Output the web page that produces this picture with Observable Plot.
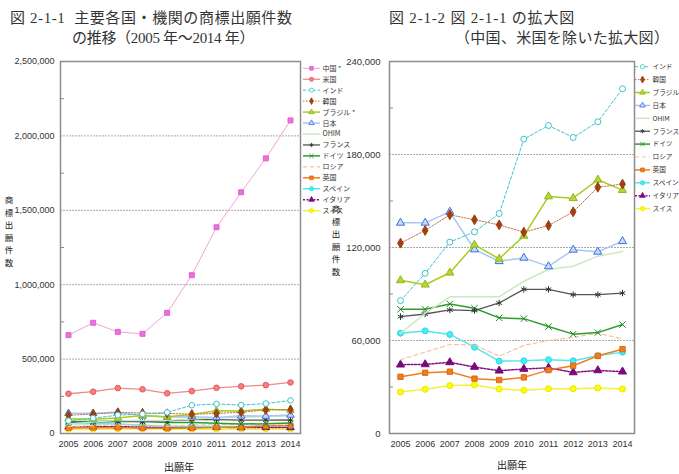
<!DOCTYPE html>
<html><head><meta charset="utf-8">
<script src="https://cdn.jsdelivr.net/npm/d3@7"></script>
<script src="https://cdn.jsdelivr.net/npm/@observablehq/plot@0.6"></script>
<style>
body{margin:0;background:#fff;}
#wrap{position:relative;width:679px;height:474px;overflow:hidden;background:#fff;}
#wrap svg{position:absolute;left:0;top:0;}
.title{position:absolute;font-family:"Liberation Serif","Noto Sans CJK JP",serif;font-size:15px;line-height:18px;color:#333;white-space:nowrap;}
</style></head><body>
<div id="wrap">
<div class="title" style="left:10px;top:9px;letter-spacing:0.6px">図 2-1-1&nbsp; 主要各国・機関の商標出願件数</div>
<div class="title" style="left:72px;top:29px;letter-spacing:-0.3px">の推移（2005 年～2014 年）</div>
<div class="title" style="left:389px;top:9px;letter-spacing:0.8px">図 2-1-2 図 2-1-1 の拡大図</div>
<div class="title" style="left:455px;top:29px;letter-spacing:0.3px">（中国、米国を除いた拡大図）</div>
</div>
<script>
// ---- data ----
const years = [2005, 2006, 2007, 2008, 2009, 2010, 2011, 2012, 2013, 2014];
const china   = [661000, 744000, 683000, 670000, 811000, 1064000, 1386000, 1621000, 1849000, 2104000];
const usa     = [267000, 281000, 305000, 297000, 270000, 285000, 307000, 317000, 325000, 343000];
const india   = [85700, 103300, 123500, 130100, 141900, 189900, 198700, 191000, 201100, 222400];
const korea   = [122800, 131000, 141100, 137900, 134600, 129900, 134200, 143000, 158900, 160900];
const brazil  = [98800, 96000, 103700, 121700, 112700, 127500, 152900, 151800, 163700, 157000];
const japan   = [135900, 135900, 143000, 118700, 111100, 113300, 107800, 118500, 117200, 124000];
const ohim    = [64700, 77500, 88200, 88200, 88200, 98200, 105800, 107900, 114400, 117400];
const france  = [75400, 77100, 79700, 79300, 84200, 93000, 93000, 89600, 89600, 90600];
const germany = [80100, 80100, 83600, 80800, 74600, 74100, 69000, 64100, 65100, 70300];
const russia  = [47600, 52500, 57400, 57200, 49900, 56800, 60000, 62100, 64700, 61000];
const uk      = [36600, 39200, 39900, 35400, 34500, 36200, 40900, 43700, 50100, 54400];
const spain   = [64700, 66200, 63900, 55700, 46700, 46900, 47600, 46900, 50100, 52500];
const italy   = [44400, 44600, 45900, 42900, 40500, 41600, 42400, 39400, 40700, 39900];
const swiss   = [26800, 28500, 30900, 31300, 28700, 27900, 28900, 28900, 29400, 28700];

const leftNames  = ["中国 *", "米国", "インド", "韓国", "ブラジル *", "日本", "OHIM", "フランス", "ドイツ", "ロシア", "英国", "スペイン", "イタリア", "スイス"];
const rightNames = ["インド", "韓国", "ブラジル", "日本", "OHIM", "フランス", "ドイツ", "ロシア", "英国", "スペイン", "イタリア", "スイス"];

const leftYTicks  = [0, 500000, 1000000, 1500000, 2000000, 2500000];
const rightYTicks = [0, 60000, 120000, 180000, 240000];
const yTitle = "商標出願件数";
const xTitle = "出願年";

// ---- styles ----
const STYLE = {
  china:   {values: china,   line: "#f5a3d6", w: 1,   dash: null,    symbol: "square",   fill: "#ee70dc", stroke: "#e060d0"},
  usa:     {values: usa,     line: "#f08a8a", w: 1.3, dash: null,    symbol: "circle",   fill: "#f48080", stroke: "#e05a5a"},
  india:   {values: india,   line: "#3cc4cc", w: 1,   dash: "3,2",   symbol: "circle",   fill: "#ffffff", stroke: "#3cc4cc"},
  korea:   {values: korea,   line: "#c2704c", w: 1,   dash: "1.5,1.5", symbol: "diamond", fill: "#a0400f", stroke: "#a0400f"},
  brazil:  {values: brazil,  line: "#a8cc22", w: 1.5, dash: null,    symbol: "triangle", fill: "#b4d63a", stroke: "#94b818"},
  japan:   {values: japan,   line: "#a6c8f2", w: 1.5, dash: null,    symbol: "triangle", fill: "#c6dafc", stroke: "#3f6fe0"},
  ohim:    {values: ohim,    line: "#cbe8c4", w: 1.5, dash: null,    symbol: null},
  france:  {values: france,  line: "#555555", w: 1.3, dash: null,    symbol: "asterisk", fill: "none",    stroke: "#333333"},
  germany: {values: germany, line: "#2e9c2e", w: 1.5, dash: null,    symbol: "times",    fill: "none",    stroke: "#1e8a1e"},
  russia:  {values: russia,  line: "#f8c39c", w: 1.2, dash: "4,3",   symbol: null},
  uk:      {values: uk,      line: "#f07c1c", w: 1.5, dash: null,    symbol: "square",   fill: "#f07c1c", stroke: "#e06a10"},
  spain:   {values: spain,   line: "#55e6f0", w: 1.5, dash: null,    symbol: "circle",   fill: "#44eef6", stroke: "#30d8e4"},
  italy:   {values: italy,   line: "#8a0a8a", w: 1.5, dash: "2,1.5", symbol: "triangle", fill: "#7a0a7a", stroke: "#7a0a7a"},
  swiss:   {values: swiss,   line: "#f2f23a", w: 1.5, dash: null,    symbol: "circle",   fill: "#ffff00", stroke: "#e8e800"}
};
const leftKeys  = ["china","usa","india","korea","brazil","japan","ohim","france","germany","russia","uk","spain","italy","swiss"];
const rightKeys = ["india","korea","brazil","japan","ohim","france","germany","russia","uk","spain","italy","swiss"];

const d3Sym = {square: d3.symbolSquare, circle: d3.symbolCircle, diamond: d3.symbolDiamond,
  triangle: d3.symbolTriangle, asterisk: d3.symbolAsterisk, times: d3.symbolTimes};

const sansFont = `"Liberation Sans", Arial, sans-serif`;
const cjkFont = `"Noto Sans CJK JP", sans-serif`;

function drawChart(o) {
  const sel = o.keys.map(k => STYLE[k]);
  const marks = [
    Plot.ruleY(o.grid, {stroke: "#aaaaaa", strokeWidth: 1, strokeDasharray: "2,1"}),
    Plot.frame({stroke: "#8c8c8c", strokeWidth: 1.5}),
    Plot.axisY(o.ticks, {anchor: "left", label: null, tickSize: 0, tickPadding: o.pad, tickFormat: d3.format(","), fontSize: o.fs, fill: "#333"}),
    Plot.axisY(o.minor, {anchor: "left", label: null, tickSize: -4, tickFormat: () => "", stroke: "#888"}),
    Plot.axisX(years, {anchor: "bottom", label: null, tickSize: 0, tickPadding: 7, tickFormat: d => String(d), fontSize: 9, fill: "#333"})
  ];
  for (const s of sel.slice().reverse()) {
    const d = years.map((yr, i) => ({year: yr, value: s.values[i]}));
    marks.push(Plot.line(d, {x: "year", y: "value", stroke: s.line, strokeWidth: s.w, strokeDasharray: s.dash}));
    if (s.symbol) marks.push(Plot.dot(d, {x: "year", y: "value", symbol: s.symbol, r: o.r, fill: s.fill, stroke: s.stroke, strokeWidth: 1}));
  }
  const svg = Plot.plot({
    width: 679, height: 474,
    marginTop: 61, marginBottom: 41, marginLeft: o.ml, marginRight: o.mr,
    style: {background: "transparent", fontFamily: sansFont, overflow: "visible"},
    x: {domain: [2005, 2014], insetLeft: o.il, insetRight: o.ir, axis: null},
    y: {domain: [0, o.yMax], axis: null},
    marks
  });
  const root = d3.select(svg);
  // legend
  const g = root.append("g").attr("text-anchor", "start");
  o.names.forEach((name, i) => {
    const s = sel[i];
    const y = o.ly0 + i * o.ldy;
    g.append("line").attr("x1", o.lx).attr("x2", o.lx + o.lw).attr("y1", y).attr("y2", y)
      .attr("stroke", s.line).attr("stroke-width", s.w).attr("stroke-dasharray", s.dash);
    if (s.symbol) {
      g.append("path").attr("d", d3.symbol(d3Sym[s.symbol], o.lsize)())
        .attr("transform", `translate(${o.lx + o.lw / 2},${y})`)
        .attr("fill", s.fill).attr("stroke", s.stroke).attr("stroke-width", 0.8);
    }
    g.append("text").attr("x", o.lx + o.lw + 2.5).attr("y", y).attr("dy", "0.35em")
      .attr("text-anchor", "start")
      .attr("font-family", cjkFont).attr("font-size", o.lfs).attr("fill", "#333").text(name);
  });
  // stacked y-axis title, one text per character
  const tg = root.append("g").attr("font-family", cjkFont).attr("font-size", 8.5)
    .attr("fill", "#222").attr("text-anchor", "middle");
  yTitle.split("").forEach((ch, i) => {
    tg.append("text").attr("x", o.ytx).attr("y", o.yty + i * 12.5).text(ch);
  });
  // x-axis title
  root.append("text").attr("font-family", cjkFont).attr("font-size", 10).attr("fill", "#222")
    .attr("text-anchor", "middle").attr("x", o.xtx).attr("y", o.xty).text(xTitle);
  return svg;
}

const wrap = document.getElementById("wrap");
wrap.appendChild(drawChart({
  keys: leftKeys, names: leftNames, ml: 60, mr: 379, il: 8, ir: 10, pad: 6, fs: 9,
  yMax: 2500000, ticks: leftYTicks, minor: [250000, 750000, 1250000, 1750000, 2250000],
  grid: [500000, 1000000, 1500000, 2000000], r: 2.8,
  lx: 303, lw: 17, ly0: 68.3, ldy: 10.95, lsize: 13, lfs: 7,
  ytx: 9, yty: 203, xtx: 179, xty: 471
}));
wrap.appendChild(drawChart({
  keys: rightKeys, names: rightNames, ml: 389, mr: 45, il: 11, ir: 12, pad: 9, fs: 9.5,
  yMax: 240000, ticks: rightYTicks, minor: [30000, 90000, 150000, 210000],
  grid: [60000, 120000, 180000], r: 3,
  lx: 635, lw: 15, ly0: 66.7, ldy: 12.9, lsize: 14, lfs: 6.7,
  ytx: 336, yty: 212, xtx: 512, xty: 469
}));
</script>
</body></html>
